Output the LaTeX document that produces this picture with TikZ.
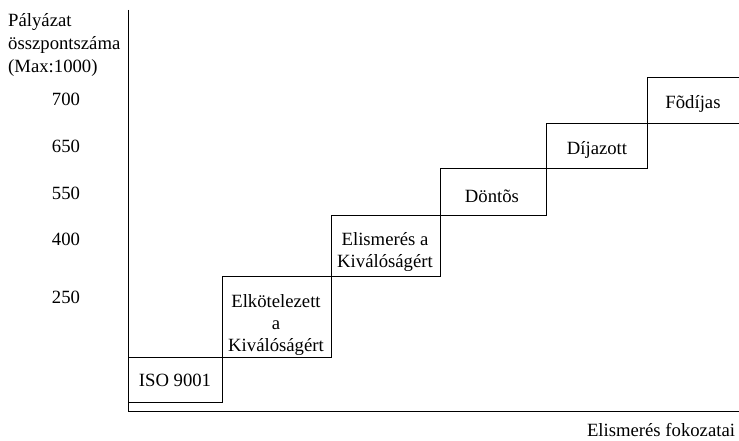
\documentclass[tikz,border=0pt]{standalone}
\usepackage{fontspec}
\setmainfont{Liberation Serif}
\begin{document}
\begin{tikzpicture}[x=1pt,y=-1pt,
  lbl/.style={font=\fontsize{18.7}{22}\selectfont, inner sep=0pt, align=center},
  ttl/.style={font=\fontsize{18.7}{23}\selectfont, inner sep=0pt, align=left},
  box/.style={draw, line width=0.9pt, inner sep=0pt, anchor=north west},
  ax/.style={line width=0.9pt}]
\useasboundingbox (0,0) rectangle (739,441);
% axes
\coordinate (otop) at (128,10);
\coordinate (o) at (128,411.5);
\coordinate (xend) at (739,411.5);
\draw[ax] (otop) -- (o) -- (xend);
% step boxes
\node[box, minimum width=94pt, minimum height=45pt] (iso) at (128,357) {};
\node[box, minimum width=109pt, minimum height=81pt] (elk) at (222,276) {};
\node[box, minimum width=109pt, minimum height=61pt] (elis) at (331,215) {};
\node[box, minimum width=106pt, minimum height=47pt] (don) at (440,168) {};
\node[box, minimum width=101pt, minimum height=45pt] (dij) at (546,123) {};
\node[inner sep=0pt, anchor=north west, minimum width=92pt, minimum height=46pt] (fod) at (647,77) {};
\draw[ax] (fod.south east) -| (fod.north west) -- (fod.north east);
% box texts
\node[lbl] (tiso) at (175,380) {ISO 9001};
\node[lbl] (telk) at (276,325) {Elkötelezett\\a\\Kiválóságért};
\node[lbl] (telis) at (385,252) {Elismerés a\\Kiválóságért};
\node[lbl] (tdon) at (492,196) {Döntõs};
\node[lbl] (tdij) at (597,150) {Díjazott};
\node[lbl] (tfod) at (693,104) {Fõdíjas};
% y labels
\node[lbl] (y700) at (66,99) {700};
\node[lbl] (y650) at (66,146.5) {650};
\node[lbl] (y550) at (66,193) {550};
\node[lbl] (y400) at (66,239) {400};
\node[lbl] (y250) at (66,297) {250};
\node[ttl, anchor=west] (ytitle) at (8,45) {Pályázat\\összpontszáma\\(Max:1000)};
\node[lbl, anchor=base] (xtitle) at (661,436.5) {Elismerés fokozatai};
\end{tikzpicture}
\end{document}
